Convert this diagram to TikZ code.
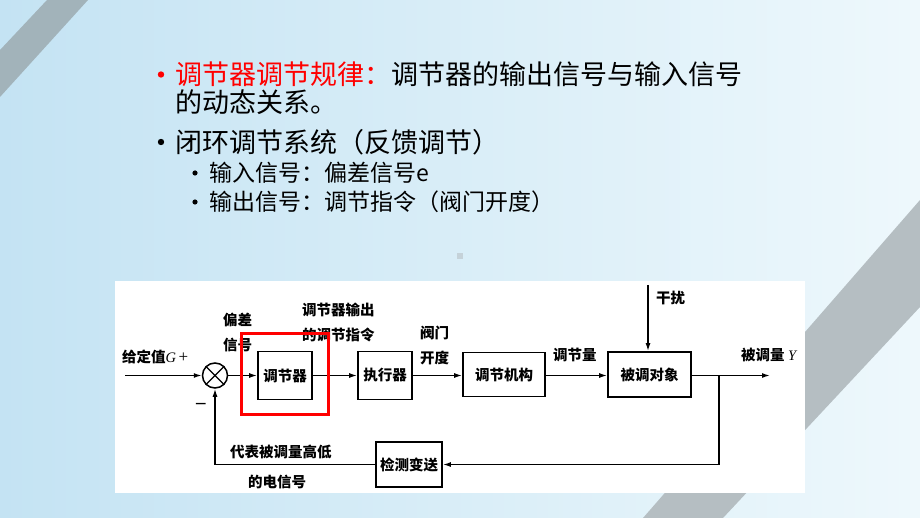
\documentclass[tikz,border=0pt]{standalone}
\usepackage{fontspec}
\newfontfamily\cjk{Noto Sans CJK SC}
\newfontfamily\tnr{Liberation Serif}
\usetikzlibrary{arrows.meta}
\definecolor{bgL}{HTML}{C4E3F3}
\definecolor{bgR}{HTML}{EEF8FC}
\definecolor{stripeA}{HTML}{A2B3BA}
\definecolor{stripeB}{HTML}{B5BEC2}
\definecolor{hl}{HTML}{FF0000}
\definecolor{dotgrey}{HTML}{C5D2D9}
\newcommand{\dfont}{\cjk\bfseries\fontsize{14.5}{14.5}\selectfont}
\newcommand{\tfont}{\cjk\fontsize{27}{27}\selectfont}
\newcommand{\sfontx}{\cjk\fontsize{23}{23}\selectfont}
\begin{document}
\begin{tikzpicture}[x=1pt,y=-1pt,
  box/.style={draw=black, line width=1.8pt, fill=white, inner sep=0pt, font=\dfont},
  lbl/.style={font=\dfont, inner sep=0pt, anchor=west},
  ttl/.style={font=\tfont, inner sep=0pt, anchor=west},
  sub/.style={font=\sfontx, inner sep=0pt, anchor=west},
  flow/.style={line width=1.4pt, -{Latex[length=8pt,width=5pt]}}
]
\useasboundingbox (0,0) rectangle (920,518);
% background
\shade[left color=bgL, right color=bgR] (0,0) rectangle (920,518);
\fill[stripeA] (47,0) -- (88,0) -- (0,97) -- (0,50) -- cycle;
\fill[stripeB] (920,200) -- (920,307) -- (723,518) -- (643,518) -- cycle;
\fill[dotgrey] (457,253) rectangle (463,259);

% bullets and text
\fill[hl] (161,74.5) circle (3.2);
\node[ttl] (t1) at (175,74.5) {{\color{hl}调节器调节规律：}调节器的输出信号与输入信号};
\node[ttl] (t2) at (175,102.5) {的动态关系。};
\fill[black] (161,142) circle (3.2);
\node[ttl] (t3) at (175,142) {闭环调节系统（反馈调节）};
\fill[black] (195,173) circle (2.6);
\node[sub] (s1) at (209,173) {输入信号：偏差信号e};
\fill[black] (195,202) circle (2.6);
\node[sub] (s2) at (209,202) {输出信号：调节指令（阀门开度）};

% white panel
\fill[white] (115,281) rectangle (805,493);

% blocks
\node[draw=black, line width=1.5pt, circle, minimum size=25pt, inner sep=0pt, fill=white] (sum) at (215,375.5) {};
\draw[line width=1.3pt] (sum.45) -- (sum.225) (sum.135) -- (sum.315);
\node[box, minimum width=54pt, minimum height=48pt] (c1) at (285,375.5) {调节器};
\node[box, minimum width=54pt, minimum height=48pt] (c2) at (385,375.5) {执行器};
\node[box, minimum width=82pt, minimum height=44pt] (c3) at (504,374.5) {调节机构};
\node[box, minimum width=83pt, minimum height=45pt] (c4) at (649.5,374.5) {被调对象};
\node[box, minimum width=66pt, minimum height=45pt] (c5) at (409,464.5) {检测变送};

\coordinate (in) at (125,375.5);
\coordinate (out) at (770,375.5);
\coordinate (j) at (719,375.5);
\coordinate (d) at (648,285);

% connectors
\draw[flow] (in) -- (sum.west);
\draw[flow] (sum.east) -- (c1.west);
\draw[flow] (c1.east) -- (c2.west);
\draw[flow] (c2.east) -- (c3.west |- c2.east);
\draw[flow] (c3.east |- c2.east) -- (c4.west |- c2.east);
\draw[flow] (c4.east |- c2.east) -- (out);
\draw[flow] (d) -- (d |- c4.north);
\draw[flow] (j) |- (c5.east);
\draw[flow] (c5.west) -| (sum.south);

% labels
\node[lbl] (lg) at (122,357) {给定值{\tnr\mdseries\itshape G}\,{\tnr\mdseries\fontsize{17}{17}\selectfont +}};
\node[lbl] (lp1) at (223,320) {偏差};
\node[lbl] (lp2) at (223,345) {信号};
\node[lbl] (lo1) at (302,310) {调节器输出};
\node[lbl] (lo2) at (302,335) {的调节指令};
\node[lbl] (lv1) at (420,333) {阀门};
\node[lbl] (lv2) at (420,358) {开度};
\node[lbl] (lq) at (553,355) {调节量};
\node[lbl] (lr) at (656,298) {干扰};
\node[lbl] (ly) at (741,355) {被调量 {\tnr\mdseries\itshape Y}};
\node[lbl] (lm) at (196,406) {{\tnr\bfseries\fontsize{19}{19}\selectfont –}};
\node[lbl] (lf1) at (230,452) {代表被调量高低};
\node[lbl] (lf2) at (248,482) {的电信号};

% highlight
\draw[hl, line width=3pt] (241,333) rectangle (328,414);
\end{tikzpicture}
\end{document}
